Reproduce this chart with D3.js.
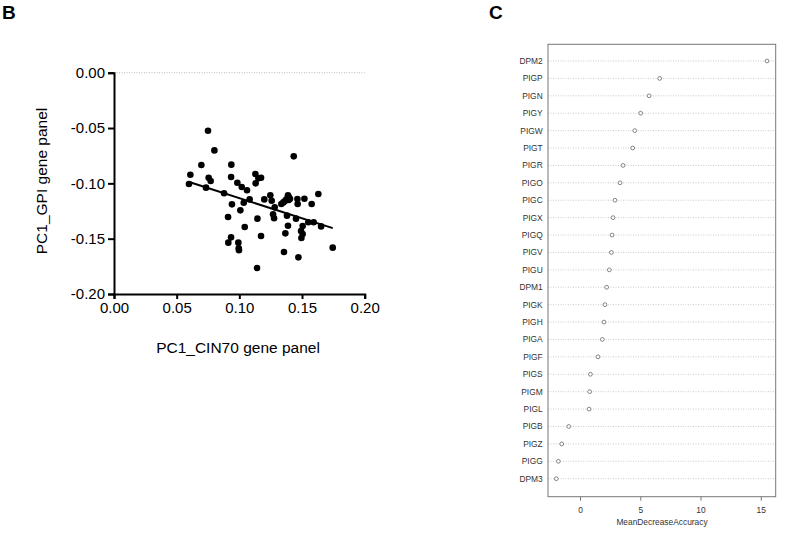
<!DOCTYPE html>
<html>
<head>
<meta charset="utf-8">
<script src="https://cdn.jsdelivr.net/npm/d3@7"></script>
<style>
body { margin: 0; background: #fff; }
svg { display: block; font-family: "Liberation Sans", Arial, sans-serif; }
</style>
</head>
<body>
<svg id="chart" width="786" height="537"></svg>
<script>
// panel B: PC1_CIN70 vs PC1_GPI
var cinX = [0.0598, 0.0609, 0.0734, 0.0697, 0.0750, 0.0755, 0.0771, 0.0801, 0.0878, 0.0910,
            0.0936, 0.0934, 0.0941, 0.0934, 0.0912, 0.0984, 0.0992, 0.0995, 0.0997, 0.1008,
            0.1019, 0.1035, 0.1043, 0.1061, 0.1082, 0.1128, 0.1130, 0.1152, 0.1173, 0.1144,
            0.1173, 0.1141, 0.1199, 0.1247, 0.1258, 0.1282, 0.1269, 0.1277, 0.1335, 0.1351,
            0.1364, 0.1375, 0.1388, 0.1394, 0.1394, 0.1404, 0.1380, 0.1388, 0.1367, 0.1356,
            0.1434, 0.1452, 0.1463, 0.1465, 0.1471, 0.1492, 0.1495, 0.1505, 0.1505, 0.1519,
            0.1550, 0.1577, 0.1593, 0.1630, 0.1652, 0.1745];
var gpiY = [-0.1006, -0.0922, -0.1039, -0.0834, -0.0524, -0.0949, -0.0979, -0.0702, -0.1090, -0.1304,
            -0.0831, -0.0943, -0.1190, -0.1488, -0.1536, -0.0994, -0.1536, -0.1587, -0.1605, -0.1244,
            -0.1033, -0.1175, -0.1395, -0.1063, -0.1145, -0.0916, -0.1000, -0.0955, -0.0949, -0.1319,
            -0.1476, -0.1765, -0.1145, -0.1108, -0.1157, -0.1217, -0.1280, -0.1316, -0.1187, -0.1172,
            -0.1160, -0.1145, -0.1108, -0.1123, -0.1151, -0.1139, -0.1292, -0.1383, -0.1452, -0.1620,
            -0.0756, -0.1319, -0.1142, -0.1187, -0.1669, -0.1431, -0.1494, -0.1386, -0.1458, -0.1139,
            -0.1352, -0.1187, -0.1352, -0.1096, -0.1389, -0.1581];
var fitX = [0.0600, 0.1745];
var fitY = [-0.0988, -0.1405];
var bTicksX = [0, 0.05, 0.10, 0.15, 0.20];
var bTicksY = [0, -0.05, -0.10, -0.15, -0.20];

// panel C: random forest importance
var genes = ["DPM2", "PIGP", "PIGN", "PIGY", "PIGW", "PIGT", "PIGR", "PIGO", "PIGC", "PIGX",
             "PIGQ", "PIGV", "PIGU", "DPM1", "PIGK", "PIGH", "PIGA", "PIGF", "PIGS", "PIGM",
             "PIGL", "PIGB", "PIGZ", "PIGG", "DPM3"];
var mda = [15.52, 6.61, 5.73, 5.03, 4.54, 4.37, 3.57, 3.32, 2.90, 2.74,
           2.66, 2.60, 2.43, 2.21, 2.07, 1.99, 1.85, 1.49, 0.86, 0.80,
           0.75, -0.94, -1.52, -1.80, -1.97];
var cTicks = [0, 5, 10, 15];

var svg = d3.select("#chart");

// ---- panel B ----
var xB = d3.scaleLinear().domain([0, 0.2]).range([114, 364.7]);
var yB = d3.scaleLinear().domain([-0.2, 0]).range([294, 72.7]);

svg.append("text").attr("x", 2).attr("y", 19)
    .attr("font-size", 19).attr("font-weight", "bold").text("B");

svg.append("line")
    .attr("x1", xB(0)).attr("x2", xB(0.2))
    .attr("y1", yB(0)).attr("y2", yB(0))
    .attr("stroke", "#aaa").attr("stroke-width", 0.8)
    .attr("stroke-dasharray", "1,1.5");

// plain hyphen for negatives, like the original
var fmt = function(d) { return d3.format(".2f")(d).replace("\u2212", "-"); };
var gx = svg.append("g").attr("transform", "translate(0," + yB(-0.2) + ")")
    .call(d3.axisBottom(xB).tickValues(bTicksX).tickFormat(fmt).tickSize(5).tickPadding(3));
var gy = svg.append("g").attr("transform", "translate(" + xB(0) + ",0)")
    .call(d3.axisLeft(yB).tickValues(bTicksY).tickFormat(fmt).tickSize(6).tickPadding(3));
[gx, gy].forEach(function(g) {
    g.select(".domain").attr("stroke", "#000").attr("stroke-width", 2);
    g.selectAll(".tick line").attr("stroke", "#000").attr("stroke-width", 2);
    g.selectAll("text").attr("font-size", 15).attr("fill", "#000")
        .attr("font-family", "Liberation Sans, Arial, sans-serif");
});

svg.append("text").attr("x", 238).attr("y", 353)
    .attr("text-anchor", "middle").attr("font-size", 15.5).text("PC1_CIN70 gene panel");
svg.append("text").attr("transform", "translate(47,181) rotate(-90)")
    .attr("text-anchor", "middle").attr("font-size", 15.5).text("PC1_GPI gene panel");

var pts = cinX.map(function(x, i) { return { x: x, y: gpiY[i] }; });
svg.selectAll(".dot").data(pts).enter().append("circle")
    .attr("class", "dot")
    .attr("cx", function(d) { return xB(d.x); })
    .attr("cy", function(d) { return yB(d.y); })
    .attr("r", 3.3)
    .attr("fill", "#000");

svg.append("line")
    .attr("x1", xB(fitX[0])).attr("y1", yB(fitY[0]))
    .attr("x2", xB(fitX[1])).attr("y2", yB(fitY[1]))
    .attr("stroke", "#000").attr("stroke-width", 2);

// ---- panel C ----
var xC = d3.scaleLinear().domain([-2.66, 16.24]).range([548, 775.7]);
var yC = d3.scalePoint().domain(genes).range([61, 478.7]);
var boxTop = 44.3, boxBot = 496.7;

svg.append("text").attr("x", 489).attr("y", 19)
    .attr("font-size", 19).attr("font-weight", "bold").text("C");

svg.selectAll(".row").data(genes).enter().append("line")
    .attr("class", "row")
    .attr("x1", xC.range()[0]).attr("x2", xC.range()[1])
    .attr("y1", function(d) { return yC(d); })
    .attr("y2", function(d) { return yC(d); })
    .attr("stroke", "#aaa").attr("stroke-width", 0.6)
    .attr("stroke-dasharray", "1,1.5");

svg.append("rect")
    .attr("x", xC.range()[0]).attr("y", boxTop)
    .attr("width", xC.range()[1] - xC.range()[0]).attr("height", boxBot - boxTop)
    .attr("fill", "none").attr("stroke", "#777").attr("stroke-width", 1);

svg.selectAll(".gname").data(genes).enter().append("text")
    .attr("class", "gname")
    .attr("x", 542.7).attr("y", function(d) { return yC(d) + 3; })
    .attr("text-anchor", "end").attr("font-size", 8.4).attr("fill", "#333")
    .text(function(d) { return d; });

svg.selectAll(".imp").data(genes).enter().append("circle")
    .attr("class", "imp")
    .attr("cx", function(d, i) { return xC(mda[i]); })
    .attr("cy", function(d) { return yC(d); })
    .attr("r", 1.9)
    .attr("fill", "#fff").attr("stroke", "#555").attr("stroke-width", 0.7);

var gc = svg.append("g").attr("transform", "translate(0," + boxBot + ")")
    .call(d3.axisBottom(xC).tickValues(cTicks).tickSize(4).tickPadding(6));
gc.select(".domain").remove();
gc.selectAll(".tick line").attr("stroke", "#777");
gc.selectAll("text").attr("font-size", 8.4).attr("fill", "#333")
    .attr("font-family", "Liberation Sans, Arial, sans-serif");

svg.append("text").attr("x", 662).attr("y", 525)
    .attr("text-anchor", "middle").attr("font-size", 8.4).attr("fill", "#333")
    .text("MeanDecreaseAccuracy");
</script>
</body>
</html>
